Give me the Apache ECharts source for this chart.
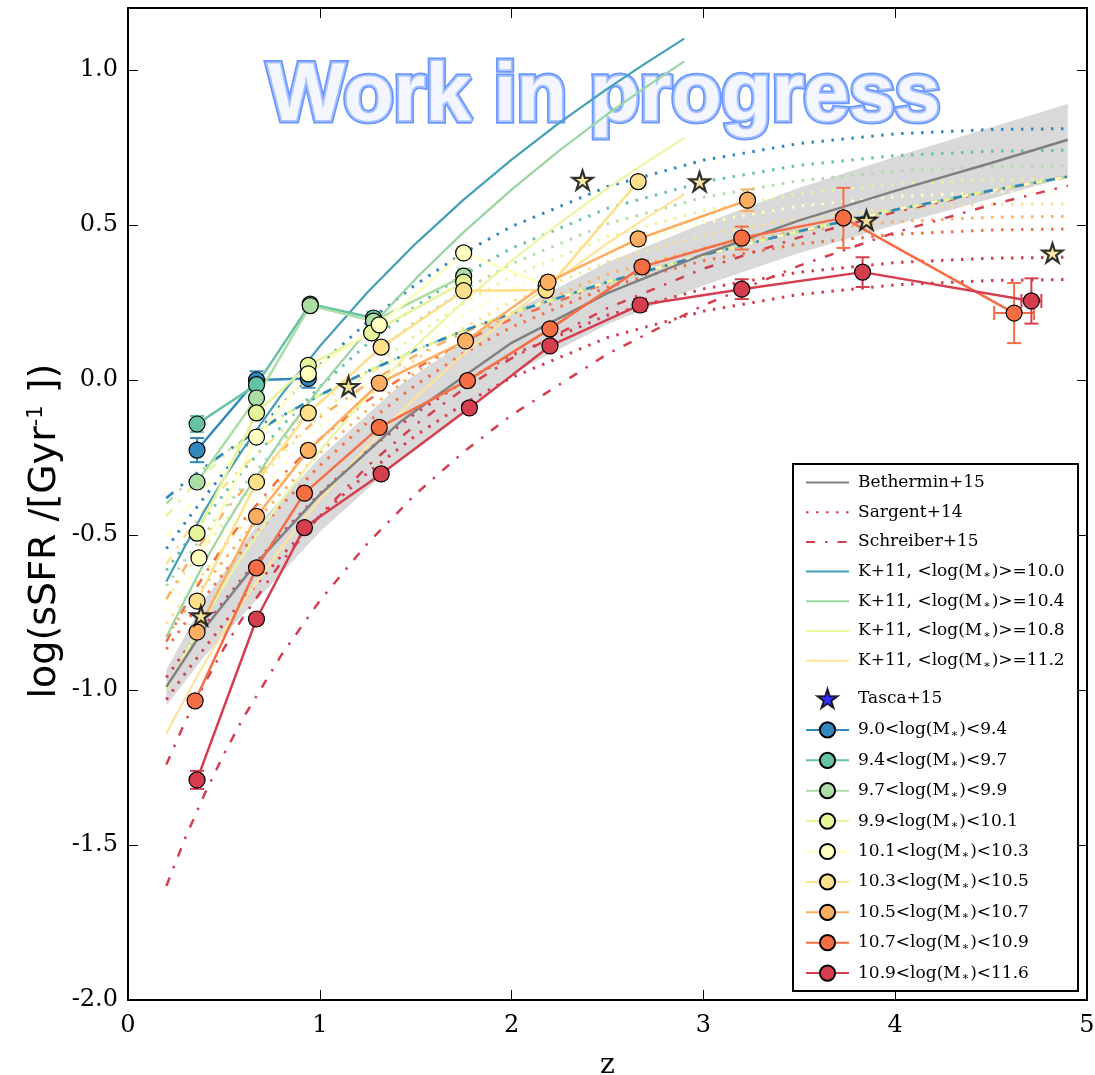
<!DOCTYPE html>
<html><head><meta charset="utf-8">
<script src="https://cdn.jsdelivr.net/npm/echarts@6/dist/echarts.min.js"></script>
<style>html,body{margin:0;padding:0;background:#fff}#c{width:1095px;height:1075px}</style>
</head><body><div id="c"></div><script>
// ---------- data ----------
const binNames = ['9.0<log(M∗)<9.4','9.4<log(M∗)<9.7','9.7<log(M∗)<9.9','9.9<log(M∗)<10.1','10.1<log(M∗)<10.3','10.3<log(M∗)<10.5','10.5<log(M∗)<10.7','10.7<log(M∗)<10.9','10.9<log(M∗)<11.6'];
const binColors = ['#3288bd','#66c2a5','#abdda4','#e6f598','#ffffbf','#fee08b','#fdae61','#f46d43','#d53e4f'];
// each point: [z, log sSFR, y error, z error]
const bin90 = [[0.36,-0.226,0.039,0],[0.67,0.0,0.028,0],[0.94,0.005,0.03,0]];
const bin94 = [[0.36,-0.142,0.026,0],[0.67,-0.015,0.02,0],[0.95,0.245,0.015,0],[1.28,0.20,0.02,0]];
const bin97 = [[0.36,-0.329,0.015,0],[0.67,-0.058,0.015,0],[0.95,0.24,0.015,0],[1.28,0.19,0.015,0],[1.75,0.335,0.025,0]];
const bin99 = [[0.36,-0.494,0.015,0],[0.67,-0.106,0.015,0],[0.94,0.047,0.015,0],[1.27,0.152,0.015,0],[1.75,0.316,0.015,0]];
const bin101 = [[0.37,-0.574,0.015,0],[0.67,-0.184,0.015,0],[0.94,0.02,0.015,0],[1.31,0.178,0.015,0],[1.75,0.41,0.015,0],[2.18,0.305,0.015,0]];
const bin103 = [[0.36,-0.713,0.015,0],[0.67,-0.329,0.015,0],[0.94,-0.106,0.015,0],[1.32,0.106,0.015,0],[1.75,0.288,0.015,0],[2.18,0.29,0.015,0],[2.66,0.64,0.015,0]];
const bin105 = [[0.36,-0.813,0.015,0],[0.67,-0.44,0.015,0],[0.94,-0.227,0.015,0],[1.31,-0.01,0.015,0],[1.76,0.126,0.015,0],[2.19,0.316,0.02,0],[2.66,0.455,0.02,0],[3.23,0.58,0.035,0]];
const bin107 = [[0.35,-1.035,0.015,0],[0.67,-0.606,0.015,0],[0.92,-0.365,0.015,0],[1.31,-0.153,0.015,0],[1.77,-0.002,0.015,0],[2.2,0.165,0.015,0],[2.68,0.365,0.02,0],[3.2,0.458,0.037,0],[3.73,0.523,0.097,0],[4.62,0.216,0.097,0.104]];
const bin109 = [[0.36,-1.29,0.029,0],[0.67,-0.771,0.015,0],[0.92,-0.476,0.015,0],[1.32,-0.303,0.015,0],[1.78,-0.09,0.015,0],[2.2,0.11,0.015,0],[2.67,0.242,0.02,0],[3.2,0.293,0.032,0],[3.83,0.348,0.048,0],[4.71,0.255,0.073,0.052]];
const bins = [bin90,bin94,bin97,bin99,bin101,bin103,bin105,bin107,bin109];

const tascaZ = [0.38,1.15,2.37,2.98,3.85,4.82];
const tascaY = [-0.76,-0.02,0.645,0.64,0.516,0.41];

const bethZ    = [0.2,0.4,0.67,1.0,1.42,1.77,2.0,2.5,3.0,3.5,4.0,4.5,4.9];
const bethY    = [-0.99,-0.80,-0.59,-0.37,-0.135,0.02,0.12,0.28,0.405,0.515,0.61,0.70,0.775];
const bethLow  = [-1.05,-0.89,-0.71,-0.49,-0.255,-0.09,0.02,0.18,0.305,0.41,0.50,0.585,0.655];
const bethHigh = [-0.935,-0.71,-0.47,-0.25,-0.015,0.13,0.22,0.38,0.505,0.62,0.72,0.815,0.89];

const modelZ = [0.2,0.3,0.4,0.5,0.6,0.8,1.0,1.25,1.5,1.75,2.0,2.5,3.0,3.5,4.0,4.5,4.9];
const sargent92  = [-0.544,-0.458,-0.377,-0.298,-0.222,-0.080,0.048,0.188,0.308,0.410,0.495,0.624,0.709,0.763,0.794,0.808,0.811];
const sargent955 = [-0.614,-0.528,-0.447,-0.368,-0.292,-0.150,-0.022,0.118,0.238,0.340,0.425,0.554,0.639,0.693,0.724,0.738,0.741];
const sargent98  = [-0.664,-0.578,-0.497,-0.418,-0.342,-0.200,-0.072,0.068,0.188,0.290,0.375,0.504,0.589,0.643,0.674,0.688,0.691];
const sargent100 = [-0.706,-0.620,-0.539,-0.460,-0.384,-0.242,-0.114,0.026,0.146,0.248,0.333,0.462,0.547,0.601,0.632,0.646,0.649];
const sargent102 = [-0.746,-0.660,-0.579,-0.500,-0.424,-0.282,-0.154,-0.014,0.106,0.208,0.293,0.422,0.507,0.561,0.592,0.606,0.609];
const sargent104 = [-0.786,-0.700,-0.619,-0.540,-0.464,-0.322,-0.194,-0.054,0.066,0.168,0.253,0.382,0.467,0.521,0.552,0.566,0.569];
const sargent106 = [-0.827,-0.741,-0.660,-0.581,-0.505,-0.363,-0.235,-0.095,0.025,0.127,0.212,0.341,0.426,0.480,0.511,0.525,0.528];
const sargent108 = [-0.868,-0.782,-0.701,-0.622,-0.546,-0.404,-0.276,-0.136,-0.016,0.086,0.171,0.300,0.385,0.439,0.470,0.484,0.487];
const sargent1125= [-0.959,-0.873,-0.792,-0.713,-0.637,-0.495,-0.367,-0.227,-0.107,-0.005,0.080,0.209,0.294,0.348,0.379,0.393,0.396];
const sargent116 = [-1.031,-0.945,-0.864,-0.785,-0.709,-0.567,-0.439,-0.299,-0.179,-0.077,0.008,0.137,0.222,0.276,0.307,0.321,0.324];

const schreiber92  = [-0.381,-0.329,-0.281,-0.236,-0.194,-0.117,-0.049,0.028,0.097,0.159,0.216,0.316,0.403,0.480,0.549,0.611,0.656];
const schreiber955 = [-0.381,-0.329,-0.281,-0.236,-0.194,-0.117,-0.049,0.028,0.097,0.159,0.216,0.316,0.403,0.480,0.549,0.611,0.656];
const schreiber98  = [-0.399,-0.336,-0.283,-0.236,-0.194,-0.117,-0.049,0.028,0.097,0.159,0.216,0.316,0.403,0.480,0.549,0.611,0.656];
const schreiber100 = [-0.440,-0.366,-0.303,-0.246,-0.199,-0.117,-0.049,0.028,0.097,0.159,0.216,0.316,0.403,0.480,0.549,0.611,0.656];
const schreiber102 = [-0.505,-0.420,-0.348,-0.283,-0.226,-0.129,-0.051,0.028,0.097,0.159,0.216,0.316,0.403,0.480,0.549,0.611,0.656];
const schreiber104 = [-0.594,-0.500,-0.417,-0.343,-0.278,-0.166,-0.073,0.021,0.096,0.159,0.216,0.316,0.403,0.480,0.549,0.611,0.656];
const schreiber106 = [-0.707,-0.601,-0.510,-0.427,-0.354,-0.226,-0.120,-0.011,0.079,0.153,0.215,0.316,0.403,0.480,0.549,0.611,0.656];
const schreiber108 = [-0.844,-0.726,-0.627,-0.535,-0.453,-0.310,-0.190,-0.066,0.037,0.124,0.197,0.314,0.403,0.480,0.549,0.611,0.656];
const schreiber1125= [-1.240,-1.100,-0.978,-0.866,-0.765,-0.587,-0.437,-0.277,-0.144,-0.029,0.070,0.232,0.359,0.460,0.542,0.610,0.656];
const schreiber116 = [-1.632,-1.475,-1.335,-1.207,-1.091,-0.887,-0.712,-0.526,-0.368,-0.232,-0.113,0.084,0.241,0.369,0.476,0.565,0.627];

const modelColors = ['#3288bd','#66c2a5','#abdda4','#e6f598','#ffffbf','#fee08b','#fdae61','#f46d43','#d53e4f','#d53e4f'];
const sargentLines = [sargent92,sargent955,sargent98,sargent100,sargent102,sargent104,sargent106,sargent108,sargent1125,sargent116];
const schreiberLines = [schreiber92,schreiber955,schreiber98,schreiber100,schreiber102,schreiber104,schreiber106,schreiber108,schreiber1125,schreiber116];

const kZ = [0.2,0.3,0.4,0.5,0.6,0.8,1.0,1.25,1.5,1.75,2.0,2.25,2.5,2.7,2.9];
const k100 = [-0.65,-0.533,-0.421,-0.318,-0.223,-0.048,0.109,0.284,0.440,0.582,0.711,0.830,0.940,1.022,1.101];
const k104 = [-0.83,-0.706,-0.587,-0.478,-0.377,-0.191,-0.025,0.161,0.327,0.477,0.614,0.741,0.858,0.945,1.028];
const k108 = [-1.0,-0.881,-0.767,-0.662,-0.565,-0.387,-0.228,-0.050,0.109,0.253,0.385,0.506,0.618,0.701,0.781];
const k112 = [-1.14,-1.024,-0.913,-0.810,-0.715,-0.541,-0.386,-0.212,-0.056,0.084,0.213,0.331,0.441,0.522,0.600];
const kNames = ['K+11, <log(M∗)>=10.0','K+11, <log(M∗)>=10.4','K+11, <log(M∗)>=10.8','K+11, <log(M∗)>=11.2'];
const kColors = ['#449fb8','#9ad5a2','#ecf5a2','#fee49a'];
const kLines = [k100,k104,k108,k112];

const yTicks = [-2.0,-1.5,-1.0,-0.5,0.0,0.5,1.0];

// ---------- chart ----------
const chart = echarts.init(document.getElementById('c'), null, {renderer:'canvas'});
const pair = (zs, ys) => zs.map((z,i) => [z, ys[i]]);
const series = [];
const noDot = {color:'rgba(0,0,0,0)', borderWidth:0};

// watermark drawn beneath all curves
series.push({
  type:'custom', name:'watermark', silent:true, z:0, data:[[0,0]],
  renderItem:() => ({type:'group', children:[
    {type:'text', x:604, y:97, style:{text:'Work in progress', font:'bold 82px "Liberation Sans", Arial, sans-serif',
      textAlign:'center', textVerticalAlign:'middle', fill:'#6b98ff', stroke:'#6b98ff', lineWidth:7}},
    {type:'text', x:604, y:97, style:{text:'Work in progress', font:'bold 82px "Liberation Sans", Arial, sans-serif',
      textAlign:'center', textVerticalAlign:'middle', fill:'#f3f5ff', stroke:'#a9c2ff', lineWidth:3.5}}
  ]})
});

series.push({
  type:'custom', name:'bethBand', silent:true, z:1, data:[[1,0]],
  renderItem:(p, api) => {
    const pts = [];
    for (let i=0;i<bethZ.length;i++) pts.push(api.coord([bethZ[i], bethHigh[i]]));
    for (let i=bethZ.length-1;i>=0;i--) pts.push(api.coord([bethZ[i], bethLow[i]]));
    return {type:'polygon', shape:{points:pts, smooth:0}, style:{fill:'#d9d9d9'}};
  }
});

for (let i=sargentLines.length-1;i>=0;i--) {
  series.push({type:'line', name:'Sargent+14', z:2, data:pair(modelZ, sargentLines[i]),
    symbol:'none', itemStyle:noDot, lineStyle:{color:modelColors[i], width:3, type:[2.5,7.5], cap:'butt'}});
}
for (let i=schreiberLines.length-1;i>=0;i--) {
  series.push({type:'line', name:'Schreiber+15', z:2, data:pair(modelZ, schreiberLines[i]),
    symbol:'none', itemStyle:noDot, lineStyle:{color:modelColors[i], width:2.5, type:[9,10,2.5,10], cap:'butt'}});
}
kLines.forEach((arr,i) => {
  series.push({type:'line', name:kNames[i], z:3, data:pair(kZ, arr),
    symbol:'none', itemStyle:noDot, lineStyle:{color:kColors[i], width:2.2}});
});
series.push({type:'line', name:'Bethermin+15', z:3, data:pair(bethZ, bethY),
  symbol:'none', itemStyle:noDot, lineStyle:{color:'#808080', width:2.5}});

bins.forEach((b,i) => {
  const col = binColors[i];
  series.push({
    type:'custom', name:'err'+i, z:4, silent:true,
    data:b, encode:{x:0,y:1},
    renderItem:(p, api) => {
      const x = api.value(0), y = api.value(1), ey = api.value(2), ex = api.value(3);
      const ch = [], cap = 7;
      const st = {stroke:col, lineWidth:2};
      if (ey > 0) {
        const a = api.coord([x, y-ey]), c = api.coord([x, y+ey]);
        ch.push({type:'line', shape:{x1:a[0],y1:a[1],x2:c[0],y2:c[1]}, style:st});
        ch.push({type:'line', shape:{x1:a[0]-cap,y1:a[1],x2:a[0]+cap,y2:a[1]}, style:st});
        ch.push({type:'line', shape:{x1:c[0]-cap,y1:c[1],x2:c[0]+cap,y2:c[1]}, style:st});
      }
      if (ex > 0) {
        const a = api.coord([x-ex, y]), c = api.coord([x+ex, y]);
        ch.push({type:'line', shape:{x1:a[0],y1:a[1],x2:c[0],y2:c[1]}, style:st});
        ch.push({type:'line', shape:{x1:a[0],y1:a[1]-cap,x2:a[0],y2:a[1]+cap}, style:st});
        ch.push({type:'line', shape:{x1:c[0],y1:c[1]-cap,x2:c[0],y2:c[1]+cap}, style:st});
      }
      return {type:'group', children:ch};
    }
  });
  series.push({
    type:'line', name:binNames[i], z:5, data:b.map(d => [d[0], d[1]]),
    symbol:'circle', symbolSize:16, showSymbol:true,
    itemStyle:{color:col, borderColor:'#000', borderWidth:1.2},
    lineStyle:{color:col, width:2.5}
  });
});

const starPath = 'path://M50 0L61 35L98 35L68 57L79 91L50 70L21 91L32 57L2 35L39 35Z';
series.push({type:'scatter', name:'Tasca+15', z:6, data:pair(tascaZ, tascaY), symbol:starPath, symbolSize:20, symbolKeepAspect:true,
  itemStyle:{color:'#f9e38f', borderColor:'#000', borderWidth:2.2}});

const fmt = n => n.replace('∗', '{s|∗}');
const legendText = {fontFamily:'DejaVu Serif', fontSize:17, color:'#000', lineHeight:19, padding:[0,0,0,4],
  rich:{s:{fontFamily:'DejaVu Serif', fontSize:11, lineHeight:10, verticalAlign:'bottom', padding:[0,1,0,1]}}};

const axisCommon = {
  type:'value', axisLine:{show:true, onZero:false, lineStyle:{color:'#000', width:2}},
  axisTick:{show:true, inside:true, length:10, lineStyle:{color:'#000', width:1}},
  splitLine:{show:false}
};

chart.setOption({
  animation:false,
  backgroundColor:'#fff',
  grid:{left:128, right:8, top:8, bottom:75, containLabel:false, outerBoundsMode:'none'},
  xAxis:[
    Object.assign({}, axisCommon, {position:'bottom', min:0, max:5, interval:1,
      axisLabel:{fontFamily:'DejaVu Serif', fontSize:24, color:'#000', margin:14},
      name:'z', nameLocation:'middle', nameGap:52, nameTextStyle:{fontFamily:'DejaVu Serif', fontSize:28, color:'#000'}}),
    Object.assign({}, axisCommon, {position:'top', min:0, max:5, interval:1, axisLabel:{show:false}})
  ],
  yAxis:[
    Object.assign({}, axisCommon, {position:'left', min:-2, max:1.2, interval:0.5,
      axisLabel:{fontFamily:'DejaVu Serif', fontSize:24, color:'#000', margin:10, showMaxLabel:false,
        formatter:v => (yTicks.some(t => Math.abs(t-v) < 1e-6) ? v.toFixed(1) : '')}}),
    Object.assign({}, axisCommon, {position:'right', min:-2, max:1.2, interval:0.5, axisLabel:{show:false}})
  ],
  legend:[
    {orient:'vertical', left:800, top:468, itemWidth:43, itemHeight:19, itemGap:10.7, selectedMode:false, z:20,
      data:['Bethermin+15','Sargent+14','Schreiber+15'].concat(kNames), formatter:fmt, textStyle:legendText},
    {orient:'vertical', left:800, top:683, itemWidth:43, itemHeight:19, itemGap:11.4, selectedMode:false, z:20,
      data:[{name:'Tasca+15', itemStyle:{color:'#0000ff', borderColor:'#000', borderWidth:2}}].concat(binNames), formatter:fmt, textStyle:legendText}
  ],
  graphic:{elements:[
    {type:'rect', z:10, silent:true, shape:{x:793, y:464, width:285, height:527},
      style:{fill:'#fff', stroke:'#000', lineWidth:2}},
    {type:'text', z:10, x:45, y:531, rotation:Math.PI/2, silent:true,
      style:{text:'{a|log(sSFR /[Gyr}{b|-1}{a| ])}', textAlign:'center', textVerticalAlign:'middle',
        rich:{a:{fontFamily:'DejaVu Sans', fontSize:38, lineHeight:46, fill:'#000'},
              b:{fontFamily:'DejaVu Sans', fontSize:21, lineHeight:21, verticalAlign:'top', padding:[4,0,0,0], fill:'#000'}}}}
  ]},
  series:series
});
</script></body></html>
